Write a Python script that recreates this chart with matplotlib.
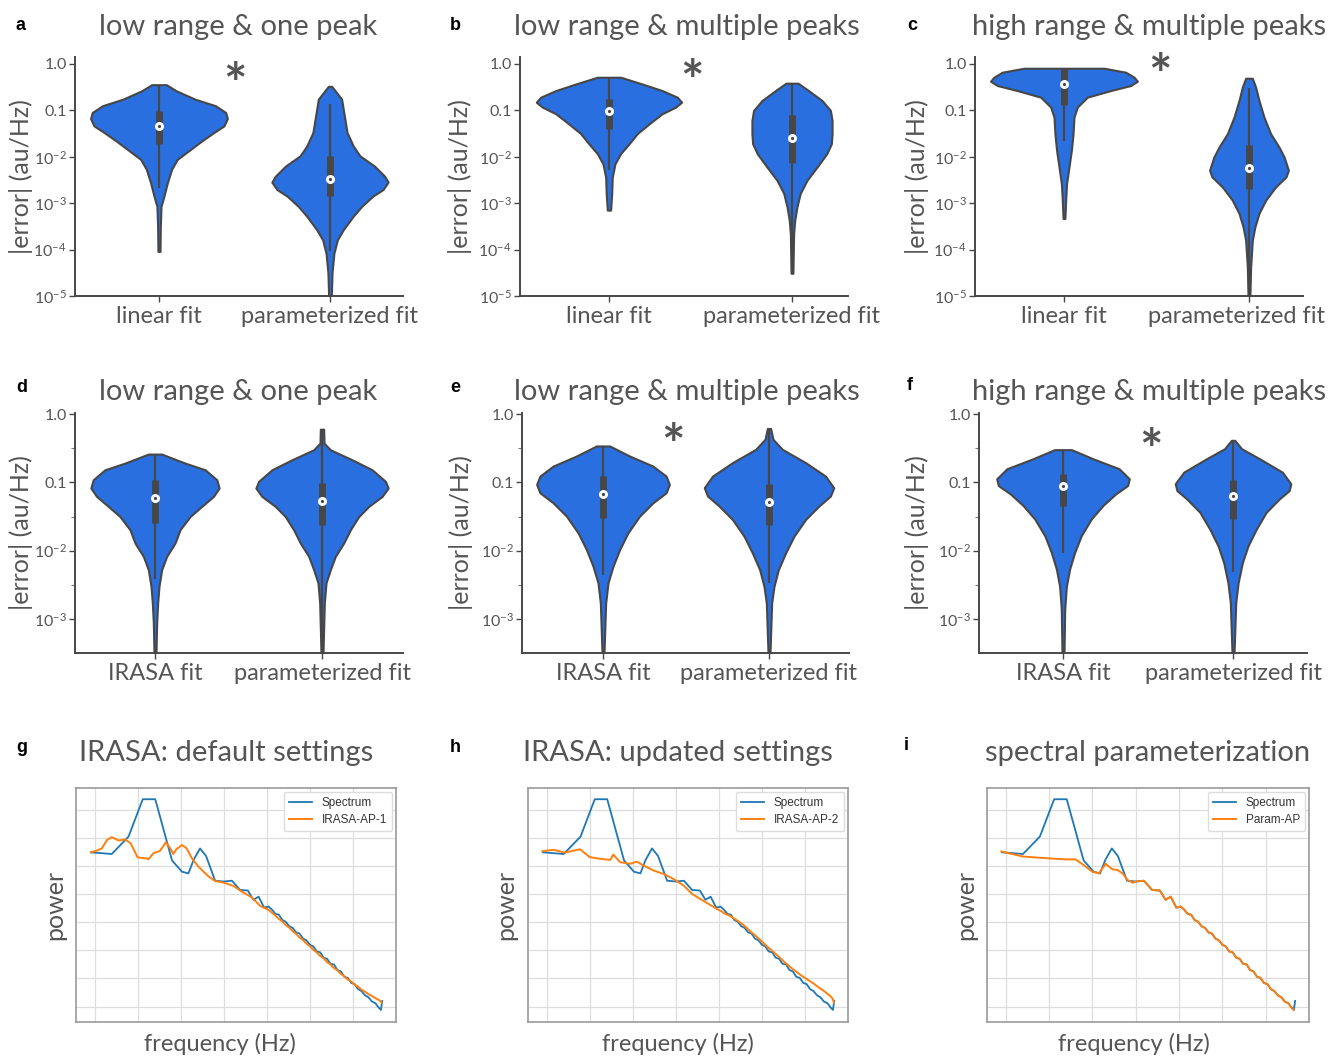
import numpy as np
import matplotlib
matplotlib.use('Agg')
import matplotlib.pyplot as plt
from matplotlib.transforms import offset_copy, ScaledTranslation

plt.rcParams['font.family'] = ['Lato', 'DejaVu Sans']
plt.rcParams['mathtext.fontset'] = 'custom'
plt.rcParams['mathtext.rm'] = 'Lato'
plt.rcParams['mathtext.it'] = 'Lato:italic'
plt.rcParams['mathtext.bf'] = 'Lato:bold'

GREY = '#555555'
EDGE = '#474747'
VIOLIN = '#2a6fe0'

# ---- violin data: log10(|error|) levels, half widths, and [whisker lo, q1, median, q3, whisker hi] (log10)
a_lin_lev = [-0.447, -0.577, -0.758, -0.90, -1.046, -1.176, -1.335, -1.479, -1.66, -1.84, -2.056, -2.27, -2.56, -2.85, -3.07, -3.5, -4.04]
a_lin_w = [0.043, 0.10, 0.21, 0.33, 0.39, 0.40, 0.38, 0.32, 0.25, 0.185, 0.107, 0.074, 0.049, 0.029, 0.012, 0.008, 0.006]
a_lin_st = [-2.67, -1.73, -1.335, -1.01, -0.447]
a_par_lev = [-0.483, -0.758, -1.118, -1.479, -1.768, -1.98, -2.2, -2.42, -2.547, -2.706, -2.85, -3.07, -3.28, -3.57, -3.79, -4.08, -4.5, -5.0]
a_par_w = [0.01, 0.068, 0.084, 0.10, 0.136, 0.175, 0.26, 0.32, 0.34, 0.31, 0.25, 0.185, 0.136, 0.078, 0.043, 0.023, 0.012, 0.008]
a_par_st = [-4.04, -2.85, -2.49, -1.98, -0.866]

b_lin_lev = [-0.287, -0.43, -0.573, -0.716, -0.824, -0.931, -1.074, -1.29, -1.50, -1.72, -1.93, -2.15, -2.44, -2.79, -3.15]
b_lin_w = [0.064, 0.18, 0.29, 0.373, 0.397, 0.364, 0.29, 0.22, 0.155, 0.11, 0.064, 0.033, 0.018, 0.015, 0.009]
b_lin_st = [-2.29, -1.40, -1.017, -0.75, -0.287]
b_par_lev = [-0.415, -0.573, -0.788, -1.003, -1.218, -1.504, -1.72, -1.934, -2.22, -2.507, -2.79, -3.08, -3.37, -3.65, -4.51]
b_par_w = [0.033, 0.09, 0.164, 0.21, 0.219, 0.219, 0.215, 0.19, 0.137, 0.082, 0.045, 0.027, 0.015, 0.009, 0.005]
b_par_st = [-4.51, -2.13, -1.597, -1.11, -0.415]

c_lin_lev = [-0.093, -0.179, -0.287, -0.372, -0.466, -0.573, -0.716, -0.93, -1.146, -1.504, -1.862, -2.22, -2.58, -2.94, -3.33]
c_lin_w = [0.217, 0.334, 0.379, 0.397, 0.36, 0.253, 0.126, 0.072, 0.054, 0.049, 0.04, 0.027, 0.014, 0.009, 0.005]
c_lin_st = [-1.65, -0.88, -0.43, -0.107, -0.093]
c_par_lev = [-0.308, -0.501, -0.788, -1.146, -1.504, -1.79, -2.006, -2.29, -2.435, -2.65, -2.937, -3.22, -3.51, -3.80, -4.37, -5.0]
c_par_w = [0.018, 0.036, 0.054, 0.081, 0.117, 0.162, 0.19, 0.213, 0.2, 0.144, 0.09, 0.054, 0.032, 0.018, 0.009, 0.005]
c_par_st = [-5.0, -2.686, -2.235, -1.755, -0.516]

d_ira_lev = [-0.585, -0.717, -0.815, -0.961, -1.083, -1.205, -1.351, -1.50, -1.693, -1.888, -2.083, -2.278, -2.52, -2.766, -3.06, -3.5]
d_ira_w = [0.04, 0.18, 0.30, 0.37, 0.384, 0.35, 0.28, 0.21, 0.15, 0.12, 0.07, 0.04, 0.024, 0.016, 0.01, 0.006]
d_ira_st = [-2.42, -1.595, -1.224, -0.961, -0.585]
d_par_lev = [-0.22, -0.424, -0.522, -0.668, -0.815, -0.985, -1.083, -1.205, -1.351, -1.50, -1.693, -1.888, -2.083, -2.278, -2.473, -2.766, -3.5]
d_par_w = [0.01, 0.012, 0.05, 0.18, 0.30, 0.38, 0.396, 0.36, 0.28, 0.22, 0.17, 0.13, 0.08, 0.05, 0.024, 0.014, 0.006]
d_par_st = [-3.5, -1.62, -1.278, -1.01, -0.22]

e_ira_lev = [-0.466, -0.613, -0.76, -0.907, -1.03, -1.152, -1.30, -1.495, -1.74, -1.985, -2.23, -2.475, -2.77, -3.5]
e_ira_w = [0.04, 0.16, 0.30, 0.38, 0.40, 0.38, 0.30, 0.22, 0.15, 0.10, 0.06, 0.03, 0.016, 0.006]
e_ira_st = [-2.35, -1.52, -1.17, -0.907, -0.466]
e_par_lev = [-0.21, -0.368, -0.515, -0.71, -0.907, -1.078, -1.20, -1.348, -1.544, -1.79, -2.034, -2.28, -2.525, -2.77, -3.5]
e_par_w = [0.01, 0.024, 0.08, 0.22, 0.34, 0.39, 0.37, 0.30, 0.22, 0.15, 0.10, 0.056, 0.03, 0.016, 0.006]
e_par_st = [-2.48, -1.618, -1.29, -1.03, -0.21]

f_ira_lev = [-0.52, -0.653, -0.80, -0.947, -1.046, -1.168, -1.34, -1.537, -1.782, -2.03, -2.27, -2.52, -2.86, -3.5]
f_ira_w = [0.05, 0.176, 0.33, 0.39, 0.38, 0.31, 0.234, 0.166, 0.107, 0.068, 0.039, 0.02, 0.01, 0.006]
f_ira_st = [-2.03, -1.34, -1.06, -0.87, -0.52]
f_par_lev = [-0.383, -0.506, -0.653, -0.85, -1.02, -1.12, -1.24, -1.438, -1.684, -1.93, -2.175, -2.47, -2.76, -3.5]
f_par_w = [0.01, 0.05, 0.156, 0.29, 0.34, 0.33, 0.273, 0.195, 0.137, 0.088, 0.055, 0.03, 0.016, 0.006]
f_par_st = [-2.32, -1.537, -1.198, -0.972, -0.383]

top_titles = ['low range & one peak', 'low range & multiple peaks', 'high range & multiple peaks']
bottom_titles = ['IRASA: default settings', 'IRASA: updated settings', 'spectral parameterization']
row1_names = ['linear fit', 'parameterized fit']
row2_names = ['IRASA fit', 'parameterized fit']
row1_ticks = [1.0, 0.1, 1e-2, 1e-3, 1e-4, 1e-5]
row2_ticks = [1.0, 0.1, 1e-2, 1e-3]
row2_minor = [10 ** -0.5, 10 ** -1.5, 10 ** -2.5]
tick_labels = ['1.0', '0.1', r'$\mathregular{10^{-2}}$', r'$\mathregular{10^{-3}}$',
               r'$\mathregular{10^{-4}}$', r'$\mathregular{10^{-5}}$']

# ---- spectra (log frequency / log power, in grid units)
spec_x = [0.915, 1.40, 1.79, 2.12, 2.41, 2.80, 3.03, 3.18, 3.30, 3.45, 3.59, 3.80, 4.00, 4.19, 4.38,
          4.56, 4.69, 4.81, 4.94, 5.04, 5.12, 5.20, 5.28, 5.36, 5.44, 5.52, 5.60, 5.68, 5.76, 5.84,
          5.92, 6.00, 6.08, 6.16, 6.24, 6.32, 6.40, 6.48, 6.56, 6.64, 6.72, 6.80, 6.88, 6.96, 7.04,
          7.12, 7.20, 7.28, 7.36, 7.44, 7.52, 7.60, 7.65, 7.68]
spec_y = [5.49, 5.43, 6.05, 7.38, 7.38, 5.20, 4.80, 4.74, 5.22, 5.63, 5.36, 4.48, 4.45, 4.48, 4.15,
          4.13, 3.80, 3.91, 3.52, 3.56, 3.45, 3.30, 3.27, 3.08, 3.02, 2.86, 2.80, 2.64, 2.60, 2.42,
          2.36, 2.20, 2.14, 1.96, 1.93, 1.74, 1.70, 1.52, 1.50, 1.30, 1.25, 1.06, 1.02, 0.84, 0.80,
          0.62, 0.55, 0.40, 0.33, 0.18, 0.12, -0.04, -0.12, 0.20]

ap1_x = [0.915, 1.05, 1.17, 1.29, 1.40, 1.56, 1.71, 1.84, 2.00, 2.22, 2.25, 2.37, 2.52, 2.66, 2.76,
         2.83, 2.90, 3.03, 3.14, 3.26, 3.38, 3.53, 3.65, 3.80, 4.00, 4.23, 4.42, 4.65, 4.85, 5.04,
         5.12, 5.20, 5.28, 5.36, 5.44, 5.52, 5.60, 5.68, 5.76, 5.84, 5.92, 6.00, 6.08, 6.16, 6.24,
         6.32, 6.40, 6.48, 6.56, 6.64, 6.72, 6.80, 6.88, 6.96, 7.04, 7.12, 7.20, 7.28, 7.36, 7.44,
         7.52, 7.60, 7.67]
ap1_y = [5.49, 5.55, 5.63, 5.93, 6.03, 5.91, 5.95, 5.81, 5.31, 5.27, 5.24, 5.46, 5.54, 5.85, 5.63,
         5.43, 5.60, 5.75, 5.63, 5.28, 5.04, 4.80, 4.63, 4.47, 4.41, 4.29, 4.09, 3.89, 3.58, 3.44,
         3.34, 3.24, 3.12, 3.03, 2.90, 2.81, 2.68, 2.59, 2.46, 2.37, 2.24, 2.15, 2.02, 1.93, 1.80,
         1.72, 1.58, 1.50, 1.37, 1.29, 1.16, 1.08, 0.96, 0.89, 0.78, 0.71, 0.60, 0.53, 0.44, 0.38,
         0.30, 0.24, 0.14]

ap2_x = [0.907, 1.16, 1.43, 1.78, 2.00, 2.24, 2.48, 2.55, 2.71, 2.94, 3.10, 3.25, 3.49, 3.72, 3.95,
         4.19, 4.38, 4.57, 4.96, 5.05, 5.15, 5.25, 5.35, 5.45, 5.55, 5.65, 5.74, 5.84, 5.94, 6.04,
         6.13, 6.23, 6.33, 6.43, 6.52, 6.62, 6.72, 6.82, 6.92, 7.02, 7.12, 7.22, 7.32, 7.42, 7.52,
         7.60, 7.65, 7.67]
ap2_y = [5.53, 5.58, 5.48, 5.60, 5.32, 5.26, 5.22, 5.41, 5.14, 5.08, 5.16, 5.02, 4.84, 4.72, 4.54,
         4.30, 4.01, 3.83, 3.47, 3.40, 3.30, 3.24, 3.14, 3.04, 2.93, 2.80, 2.66, 2.54, 2.40, 2.26,
         2.12, 2.00, 1.86, 1.72, 1.59, 1.46, 1.33, 1.22, 1.10, 1.00, 0.90, 0.80, 0.68, 0.58, 0.46,
         0.36, 0.26, 0.14]

# param aperiodic: own values below the peaks, then follows the spectrum (last sample excluded)
param_low_x = [0.90, 1.40, 1.95, 2.38, 2.61, 2.80, 3.00, 3.15, 3.31, 3.46, 3.58, 3.70, 3.81, 3.93]
param_low_y = [5.52, 5.34, 5.28, 5.24, 5.24, 5.04, 4.80, 4.74, 5.08, 4.89, 4.86, 4.74, 4.51, 4.41]
param_x = param_low_x + spec_x[12:-1]
param_y = param_low_y + spec_y[12:-1]

W, H = 1333, 1058
fig = plt.figure(figsize=(W / 100, H / 100), dpi=100)


def add_ax(left, top, right, bottom):
    return fig.add_axes([left / W, 1 - bottom / H, (right - left) / W, (bottom - top) / H])


def draw_violin(ax, pos, lev, half, st):
    y = 10.0 ** np.array(lev)
    w = np.array(half)
    ax.fill_betweenx(y, pos - w, pos + w, facecolor=VIOLIN, edgecolor=EDGE, lw=1.5,
                     joinstyle='round', zorder=2)
    lo, q1, med, q3, hi = 10.0 ** np.array(st)
    ax.vlines(pos, lo, hi, color=EDGE, lw=1.6, zorder=3)
    ax.vlines(pos, q1, q3, color=EDGE, lw=5, zorder=3)
    ax.plot(pos, med, 'o', ms=6.5, mfc='white', mec='none', zorder=4)
    ax.plot(pos, med, 'o', ms=2.3, mfc=EDGE, mec='none', zorder=5)


def violin_panel(ax, violins, names, xlim, ylim, ticks, minor=None, star=None):
    for i, (lev, w, st) in enumerate(violins):
        draw_violin(ax, i, lev, w, st)
    ax.set_yscale('log')
    ax.set_xlim(xlim)
    ax.set_ylim(ylim)
    ax.set_yticks(ticks)
    ax.set_yticklabels(tick_labels[:len(ticks)])
    ax.minorticks_off()
    if minor is not None:
        ax.set_yticks(minor, minor=True)
        ax.set_yticklabels([], minor=True)
        ax.tick_params(axis='y', which='minor', length=3, width=0.8, color='#777777')
    ax.set_xticks([0, 1])
    ax.set_xticklabels(names)
    ax.tick_params(axis='y', which='major', labelsize=11.5, labelcolor=GREY, color=EDGE,
                   length=4, width=1, pad=2)
    ax.tick_params(axis='x', labelsize=17, labelcolor=GREY, color=EDGE, length=4, width=1, pad=3)
    for s in ['top', 'right']:
        ax.spines[s].set_visible(False)
    for s in ['left', 'bottom']:
        ax.spines[s].set_color(EDGE)
        ax.spines[s].set_linewidth(1.4)
    if star is not None:
        tr = offset_copy(ax.transData, fig=fig, y=-12, units='points')
        ax.text(star[0], star[1], '*', fontsize=40, fontweight='bold', color=GREY,
                ha='center', va='center', transform=tr, clip_on=False)


def spectrum_panel(ax, x2, y2, label2, xlab_x):
    ax.plot(spec_x, spec_y, color='#1f77b4', lw=1.3, label='Spectrum')
    ax.plot(x2, y2, color='#ff7f0e', lw=1.4, label=label2)
    ax.set_xlim(0.57, 8.0)
    ax.set_ylim(-0.55, 7.78)
    ax.set_xticks(range(1, 8))
    ax.set_yticks(range(0, 8))
    ax.tick_params(length=0, labelbottom=False, labelleft=False)
    ax.grid(True, color='#dddddd', lw=0.9)
    ax.set_axisbelow(True)
    for s in ax.spines.values():
        s.set_color('#9a9a9a')
        s.set_linewidth(1.2)
    leg = ax.legend(loc='upper right', prop={'family': 'Liberation Sans', 'size': 8.5},
                    framealpha=1, edgecolor='#dddddd', borderaxespad=0.35, labelspacing=0.45)
    for t in leg.get_texts():
        t.set_color('#333333')
    ax.set_xlabel('frequency (Hz)', fontsize=17, color=GREY)
    ax.xaxis.set_label_coords(xlab_x, -0.045)


# row 1
ax_a = add_ax(75, 57, 403, 296)
violin_panel(ax_a, [(a_lin_lev, a_lin_w, a_lin_st), (a_par_lev, a_par_w, a_par_st)],
             row1_names, (-0.491, 1.427), (1e-5, 1.41), row1_ticks, star=(0.444, 0.71))
ax_b = add_ax(520, 57, 848, 296)
violin_panel(ax_b, [(b_lin_lev, b_lin_w, b_lin_st), (b_par_lev, b_par_w, b_par_st)],
             row1_names, (-0.486, 1.306), (1e-5, 1.41), row1_ticks, star=(0.454, 0.86))
ax_c = add_ax(975, 57, 1303, 296)
violin_panel(ax_c, [(c_lin_lev, c_lin_w, c_lin_st), (c_par_lev, c_par_w, c_par_st)],
             row1_names, (-0.481, 1.292), (1e-5, 1.41), row1_ticks, star=(0.519, 1.16))
# the right-hand label sits a little left of its tick in the original, so it fits the page
lab = ax_c.get_xticklabels()[1]
lab.set_transform(lab.get_transform() + ScaledTranslation(-0.12, 0, fig.dpi_scale_trans))

# row 2
ylim2 = (10 ** -3.5, 1.04)
ax_d = add_ax(75, 413, 403, 653)
violin_panel(ax_d, [(d_ira_lev, d_ira_w, d_ira_st), (d_par_lev, d_par_w, d_par_st)],
             row2_names, (-0.479, 1.485), ylim2, row2_ticks, minor=row2_minor)
ax_e = add_ax(522, 413, 849, 653)
violin_panel(ax_e, [(e_ira_lev, e_ira_w, e_ira_st), (e_par_lev, e_par_w, e_par_st)],
             row2_names, (-0.488, 1.482), ylim2, row2_ticks, minor=row2_minor, star=(0.42, 0.565))
ax_f = add_ax(979, 413, 1307, 653)
violin_panel(ax_f, [(f_ira_lev, f_ira_w, f_ira_st), (f_par_lev, f_par_w, f_par_st)],
             row2_names, (-0.494, 1.435), ylim2, row2_ticks, minor=row2_minor, star=(0.518, 0.48))

# row 3
ax_g = add_ax(76, 788, 396, 1022)
spectrum_panel(ax_g, ap1_x, ap1_y, 'IRASA-AP-1', 0.45)
ax_h = add_ax(528, 788, 848, 1022)
spectrum_panel(ax_h, ap2_x, ap2_y, 'IRASA-AP-2', 0.469)
ax_i = add_ax(987, 788, 1309, 1022)
spectrum_panel(ax_i, param_x, param_y, 'Param-AP', 0.457)

# y labels (centres in pixels)
for ax, xc, label in [(ax_a, 21, '|error| (au/Hz)'), (ax_b, 460, '|error| (au/Hz)'),
                      (ax_c, 917, '|error| (au/Hz)'), (ax_d, 21, '|error| (au/Hz)'),
                      (ax_e, 461, '|error| (au/Hz)'), (ax_f, 917, '|error| (au/Hz)'),
                      (ax_g, 55, 'power'), (ax_h, 506, 'power'), (ax_i, 966, 'power')]:
    ax.set_ylabel(label, fontsize=18, color=GREY, va='center')
    bb = ax.get_position()
    ax.yaxis.set_label_coords((xc / W - bb.x0) / bb.width, 0.5)

# titles
for xc, yc, t in [(238, 27, top_titles[0]), (687, 27, top_titles[1]), (1149, 27, top_titles[2]),
                  (238, 392, top_titles[0]), (687, 392, top_titles[1]), (1149, 392, top_titles[2]),
                  (226, 753, bottom_titles[0]), (678, 753, bottom_titles[1]), (1148, 753, bottom_titles[2])]:
    fig.text(xc / W, 1 - yc / H, t, fontsize=21, color=GREY, ha='center', va='center')

# panel letters
for xc, yc, t in [(20, 25, 'a'), (455, 25, 'b'), (912, 25, 'c'),
                  (22, 387, 'd'), (455, 387, 'e'), (910, 385, 'f'),
                  (22, 748, 'g'), (455, 748, 'h'), (906, 746, 'i')]:
    fig.text(xc / W, 1 - yc / H, t, fontsize=13, fontweight='bold', color='black',
             ha='center', va='center', family=['Liberation Sans', 'DejaVu Sans'])

fig.savefig('out.png', dpi=100)
